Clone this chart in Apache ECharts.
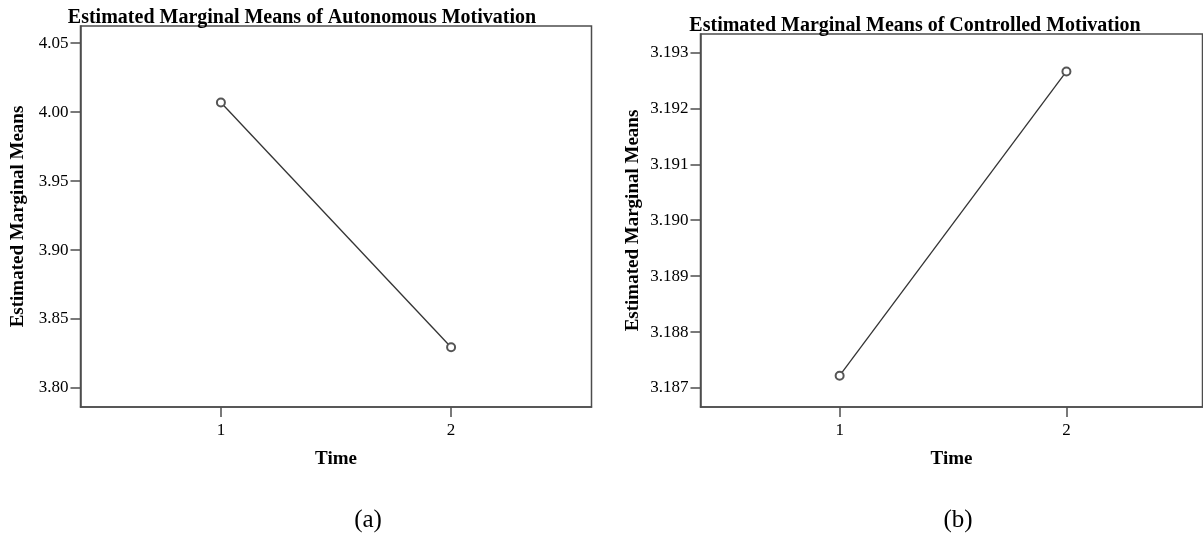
<!DOCTYPE html>
<html>
<head>
<meta charset="utf-8">
<script src="https://cdn.jsdelivr.net/npm/echarts@6/dist/echarts.min.js"></script>
<style>
  html, body { margin: 0; padding: 0; background: #fff; }
  #chart { width: 1203px; height: 537px; }
</style>
</head>
<body>
<div id="chart"></div>
<script>
// Estimated marginal means at the two measurement times
const timePoints = [1, 2];
const autonomousMeans = [4.0070, 3.8295];
const controlledMeans = [3.18722, 3.19266];

// Tick values shown on each y axis
const autonomousTicks = [3.80, 3.85, 3.90, 3.95, 4.00, 4.05];
const controlledTicks = [3.187, 3.188, 3.189, 3.190, 3.191, 3.192, 3.193];

const FONT = '"Liberation Serif", "Times New Roman", serif';
const FRAME = '#4d4d4d';
const LINE = '#333333';

function pairs(ys) { return timePoints.map((t, i) => [t, ys[i]]); }

function xAxisFor(gridIndex, min, max) {
  return {
    type: 'value', gridIndex, min, max,
    name: 'Time', nameLocation: 'middle', nameGap: 43,
    nameTextStyle: { fontFamily: FONT, fontSize: 19, fontWeight: 'bold', color: '#000' },
    axisLine: { show: true, lineStyle: { color: FRAME, width: 1.5 } },
    axisTick: { show: true, length: 10, customValues: timePoints, lineStyle: { color: FRAME, width: 1.5 } },
    axisLabel: { customValues: timePoints, margin: 15, fontFamily: FONT, fontSize: 17, color: '#000' },
    splitLine: { show: false }
  };
}

function yAxisFor(gridIndex, min, max, ticks, digits, gap) {
  return {
    type: 'value', gridIndex, min, max,
    name: 'Estimated Marginal Means', nameLocation: 'middle', nameRotate: 90, nameGap: gap,
    nameTextStyle: { fontFamily: FONT, fontSize: 19, fontWeight: 'bold', color: '#000' },
    axisLine: { show: true, lineStyle: { color: FRAME, width: 1.5 } },
    axisTick: { show: true, length: 10, customValues: ticks, lineStyle: { color: FRAME, width: 1.5 } },
    axisLabel: {
      customValues: ticks, margin: 12, fontFamily: FONT, fontSize: 17, color: '#000',
      formatter: v => Number(v).toFixed(digits)
    },
    splitLine: { show: false }
  };
}

function lineSeries(index, ys) {
  return {
    type: 'line', xAxisIndex: index, yAxisIndex: index,
    data: pairs(ys),
    symbol: 'emptyCircle', symbolSize: 8, showSymbol: true, showAllSymbol: true,
    itemStyle: { color: '#555555', borderWidth: 1.2 },
    lineStyle: { color: LINE, width: 1.3 },
    animation: false, silent: true
  };
}

const titleStyle = { fontFamily: FONT, fontSize: 20, fontWeight: 'bold', color: '#000' };
const captionStyle = { fontFamily: FONT, fontSize: 25, fontWeight: 'normal', color: '#000' };

const chart = echarts.init(document.getElementById('chart'), null, { renderer: 'canvas' });
chart.setOption({
  backgroundColor: '#fff',
  animation: false,
  title: [
    { text: 'Estimated Marginal Means of Autonomous Motivation', left: 297, top: 3, textAlign: 'center', textStyle: titleStyle },
    { text: 'Estimated Marginal Means of Controlled Motivation', left: 910, top: 11, textAlign: 'center', textStyle: titleStyle },
    { text: '(a)', left: 363, top: 503, textAlign: 'center', textStyle: captionStyle },
    { text: '(b)', left: 953, top: 503, textAlign: 'center', textStyle: captionStyle }
  ],
  grid: [
    { left: 80.5, top: 26, width: 511, height: 381, show: true, borderColor: FRAME, borderWidth: 1.5, backgroundColor: 'transparent' },
    { left: 700.5, top: 34, width: 502, height: 373, show: true, borderColor: FRAME, borderWidth: 1.5, backgroundColor: 'transparent' }
  ],
  xAxis: [
    xAxisFor(0, 0.39, 2.61),
    xAxisFor(1, 0.3865, 2.60)
  ],
  yAxis: [
    yAxisFor(0, 3.7862, 4.0625, autonomousTicks, 2, 53),
    yAxisFor(1, 3.18666, 3.19333, controlledTicks, 3, 58)
  ],
  series: [
    lineSeries(0, autonomousMeans),
    lineSeries(1, controlledMeans)
  ]
});
</script>
</body>
</html>
